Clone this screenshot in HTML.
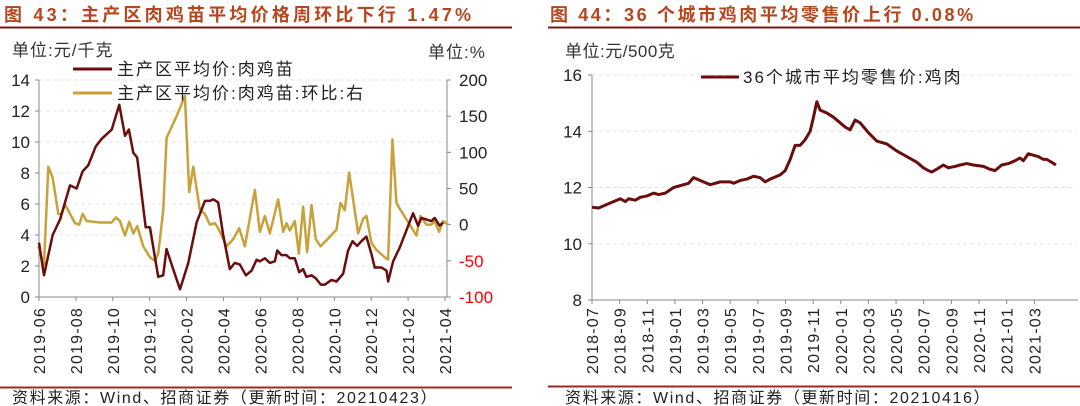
<!DOCTYPE html>
<html><head><meta charset="utf-8">
<style>
body{margin:0;background:#fff;}
svg{display:block;font-family:"Liberation Sans","Noto Sans CJK SC",sans-serif;}
</style></head>
<body>
<svg id="s" width="1080" height="406" viewBox="0 0 1080 406">
<text x="4" y="21" font-size="18" font-weight="bold" letter-spacing="3.2" fill="#b5461e">图 43：主产区肉鸡苗平均价格周环比下行 1.47%</text>
<line x1="0" y1="27.5" x2="512" y2="27.5" stroke="#7a1a16" stroke-width="2"/>
<text x="550" y="21" font-size="18" font-weight="bold" letter-spacing="2.6" fill="#b5461e">图 44：36 个城市鸡肉平均零售价上行 0.08%</text>
<line x1="548" y1="27.5" x2="1080" y2="27.5" stroke="#7a1a16" stroke-width="2"/>
<line x1="0" y1="387.5" x2="512" y2="387.5" stroke="#a02a22" stroke-width="2"/>
<line x1="548" y1="386.5" x2="1080" y2="386.5" stroke="#a02a22" stroke-width="2"/>
<text x="12" y="403" font-size="16" letter-spacing="1.6" fill="#222">资料来源：Wind、招商证券（更新时间：20210423）</text>
<text x="565" y="403" font-size="16" letter-spacing="1.6" fill="#222">资料来源：Wind、招商证券（更新时间：20210416）</text>
<text x="12" y="56" font-size="17" letter-spacing="1" fill="#333">单位:元/千克</text>
<text x="428" y="58" font-size="17" letter-spacing="1" fill="#333">单位:%</text>
<text x="565" y="57" font-size="17" letter-spacing="0.5" fill="#333">单位:元/500克</text>
<g id="L"></g><g id="R"></g>
</svg>
<script>
// ---- Left chart data (month offset from 2019-06, values) ----
const priceMonths=[0,0.27,0.74,1.14,1.68,2.04,2.36,2.67,3.07,3.39,3.94,4.35,4.66,4.87,5.11,5.32,5.78,6.01,6.46,6.73,6.91,7.27,7.64,8.09,8.54,8.99,9.26,9.44,9.71,9.98,10.34,10.61,10.88,11.21,11.52,11.79,11.97,12.24,12.51,12.78,12.91,13.14,13.41,13.59,13.86,14.10,14.31,14.49,14.77,15.00,15.27,15.49,15.85,16.12,16.48,16.75,16.99,17.24,17.47,17.74,18.01,18.19,18.56,18.83,18.92,19.19,19.55,19.91,20.27,20.54,20.72,20.99,21.26,21.44,21.71,21.9];
const priceValues=[3.5,1.4,4.0,5.0,7.2,7.0,8.1,8.5,9.7,10.2,10.8,12.4,10.4,10.8,9.3,9.0,4.5,4.5,1.3,1.4,3.1,1.8,0.5,2.2,4.8,6.2,6.2,6.3,6.1,4.0,1.8,2.2,2.1,1.4,1.7,2.4,2.3,2.5,2.2,2.3,3.0,2.7,2.7,2.5,2.5,1.6,1.8,1.3,1.4,1.2,0.8,0.8,1.1,1.0,1.5,3.0,3.6,3.3,3.6,3.9,2.8,1.9,1.9,1.7,1.0,2.3,3.2,4.3,5.4,4.6,5.1,5.0,4.9,5.1,4.6,4.8];
const chgZx=[115,132,145,158,175,185,195,210,225,238,248,260,300,335,348,360,375,388,400,412,430,450,465,475,490,500,530,555,568,580,600,615,630,645,655,680,700,718,735,765,780,795,810,835,850,860,870,885,897,910,922,935,948,962,1010,1022,1035,1048,1075,1090,1100,1115,1130,1160,1165,1178,1190,1200,1250,1262,1280,1295,1305,1318,1330,1345];
const chgValues=[-30,-55,80,65,15,15,28,15,2,0,15,5,3,3,10,5,-15,4,-12,-2,-30,-45,-50,-40,20,120,150,178,45,80,20,15,0,2,-5,-30,-20,-5,-30,48,-10,12,-12,35,-10,2,-8,5,-40,25,-38,27,-20,-30,-7,30,20,72,-12,8,12,-25,-35,-47,-48,118,30,22,-15,12,0,0,5,-10,5,0];
const chgMonths=chgZx.map(z=>(z-117)/55.4);
const leftTicks=[0,2,4,6,8,10,12,14];
const rightTicks=[-100,-50,0,50,100,150,200];
const leftDateLabels=["2019-06","2019-08","2019-10","2019-12","2020-02","2020-04","2020-06","2020-08","2020-10","2020-12","2021-02","2021-04"];
// ---- Right chart data (month offset from 2018-07) ----
const retailZx=[155,175,200,240,255,265,285,300,320,340,355,375,400,430,445,460,480,510,540,570,580,600,620,640,660,675,690,720,735,750,765,780,795,810,820,830,840,860,880,900,915,930,945,960,985,1010,1040,1070,1100,1130,1150,1165,1175,1190,1210,1225,1245,1260,1280,1300,1330,1350,1365,1385,1405,1425,1440,1450,1465,1480,1495,1510,1520,1535,1548];
const retailValues=[11.3,11.27,11.4,11.6,11.5,11.6,11.55,11.65,11.7,11.8,11.75,11.8,12.0,12.1,12.15,12.35,12.25,12.1,12.2,12.2,12.15,12.25,12.3,12.4,12.35,12.2,12.3,12.45,12.6,13.0,13.5,13.5,13.7,14.0,14.5,15.05,14.75,14.65,14.5,14.3,14.15,14.05,14.4,14.3,13.95,13.65,13.55,13.3,13.1,12.9,12.7,12.6,12.55,12.65,12.8,12.7,12.75,12.8,12.85,12.8,12.75,12.65,12.6,12.8,12.85,12.95,13.05,12.95,13.2,13.15,13.1,13.0,13.0,12.9,12.8];
const retailMonths=retailZx.map(z=>(z-155)/41.5);
const retailTicks=[8,10,12,14,16];
const rightDateLabels=["2018-07","2018-09","2018-11","2019-01","2019-03","2019-05","2019-07","2019-09","2019-11","2020-01","2020-03","2020-05","2020-07","2020-09","2020-11","2021-01","2021-03"];

const NS="http://www.w3.org/2000/svg";
function mk(parent,tag,attrs,text){const e=document.createElementNS(NS,tag);for(const k in attrs)e.setAttribute(k,attrs[k]);if(text!==undefined)e.textContent=text;parent.appendChild(e);return e;}

// Left chart
const L=document.getElementById('L');
const lx=m=>39+m*(406/22);
const ly=v=>297-v*(217/14);
const ry=v=>297-(v+100)*(217/300);
leftTicks.forEach(v=>{
  if(v>0){const g=mk(L,'line',{x1:39,x2:447,y1:ly(v),y2:ly(v),stroke:'#e4e4e4','stroke-dasharray':'4,3'});
  }
  const t=mk(L,'text',{x:30,y:ly(v)+6,'font-size':17,'text-anchor':'end',fill:'#222'},v);
  
  const tk=mk(L,'line',{x1:35,x2:39,y1:ly(v),y2:ly(v),stroke:'#888'});
  
});
rightTicks.forEach(v=>{
  const t=mk(L,'text',{x:459,y:ry(v)+6,'font-size':17,fill:v<0?'#ff0000':'#222'},v);
  
  const tk=mk(L,'line',{x1:447,x2:451,y1:ry(v),y2:ry(v),stroke:'#888'});
  
});
let a=mk(L,'line',{x1:39,x2:39,y1:80,y2:297,stroke:'#888'});

a=mk(L,'line',{x1:447,x2:447,y1:80,y2:297,stroke:'#888'});

a=mk(L,'line',{x1:39,x2:451,y1:297,y2:297,stroke:'#888'});

leftDateLabels.forEach((d,i)=>{
  const x=lx(i*2);
  const tk=mk(L,'line',{x1:x,x2:x,y1:297,y2:301,stroke:'#888'});
  
  const t=mk(L,'text',{x:0,y:0,'font-size':16,'letter-spacing':1.2,'text-anchor':'end',fill:'#222',transform:`translate(${x+6},307) rotate(-90)`},d);
  
});
let p=mk(L,'polyline',{points:chgMonths.map((m,i)=>lx(m)+','+ry(chgValues[i])).join(' '),fill:'none',stroke:'#c8a13a','stroke-width':2.5,'stroke-linejoin':'round'});

p=mk(L,'polyline',{points:priceMonths.map((m,i)=>lx(m)+','+ly(priceValues[i])).join(' '),fill:'none',stroke:'#6b0d0d','stroke-width':2.5,'stroke-linejoin':'round'});

let lg=mk(L,'line',{x1:73,x2:112,y1:69,y2:69,stroke:'#6b0d0d','stroke-width':3});

lg=mk(L,'text',{x:117,y:75,'font-size':17,'letter-spacing':2,fill:'#222'},'主产区平均价:肉鸡苗');

lg=mk(L,'line',{x1:73,x2:112,y1:93,y2:93,stroke:'#c8a13a','stroke-width':3});

lg=mk(L,'text',{x:117,y:99,'font-size':17,'letter-spacing':2,fill:'#222'},'主产区平均价:肉鸡苗:环比:右');


// Right chart
const R=document.getElementById('R');
const rx=m=>592+m*(442.3/32);
const rY=v=>300-(v-8)*(225/8);
retailTicks.forEach(v=>{
  if(v>8){const g=mk(R,'line',{x1:592,x2:1076,y1:rY(v),y2:rY(v),stroke:'#e4e4e4','stroke-dasharray':'4,3'});
  }
  const t=mk(R,'text',{x:582,y:rY(v)+6,'font-size':17,'text-anchor':'end',fill:'#222'},v);
  
  const tk=mk(R,'line',{x1:588,x2:592,y1:rY(v),y2:rY(v),stroke:'#888'});
  
});
a=mk(R,'line',{x1:592,x2:592,y1:75,y2:300,stroke:'#888'});

a=mk(R,'line',{x1:592,x2:1078,y1:300,y2:300,stroke:'#888'});

rightDateLabels.forEach((d,i)=>{
  const x=rx(i*2);
  const tk=mk(R,'line',{x1:x,x2:x,y1:300,y2:304,stroke:'#888'});
  
  const t=mk(R,'text',{x:0,y:0,'font-size':16,'letter-spacing':1.2,'text-anchor':'end',fill:'#222',transform:`translate(${x+6},307) rotate(-90)`},d);
  
});
p=mk(R,'polyline',{points:retailMonths.map((m,i)=>rx(m)+','+rY(retailValues[i])).join(' '),fill:'none',stroke:'#6b0d0d','stroke-width':3,'stroke-linejoin':'round'});

lg=mk(R,'line',{x1:701,x2:739,y1:77,y2:77,stroke:'#6b0d0d','stroke-width':3});

lg=mk(R,'text',{x:743,y:83,'font-size':17,'letter-spacing':2,fill:'#222'},'36个城市平均零售价:鸡肉');

</script>
</body></html>
